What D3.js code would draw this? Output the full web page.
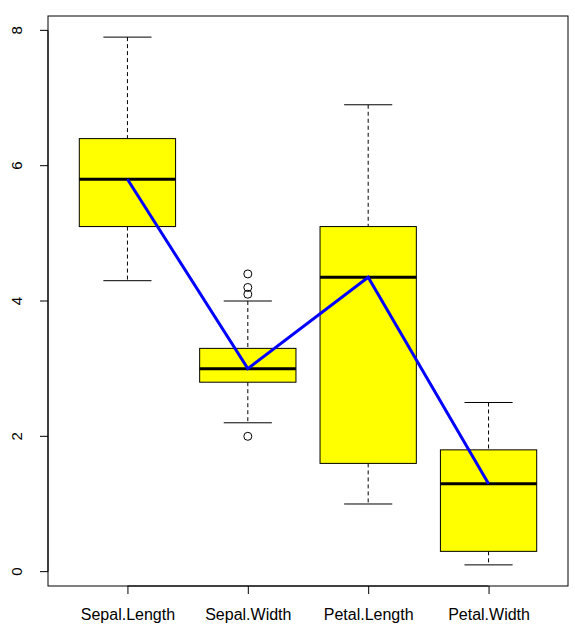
<!DOCTYPE html>
<html>
<head>
<meta charset="utf-8">
<script src="https://cdn.jsdelivr.net/npm/d3@7"></script>
<style>
  body { margin: 0; background: #fff; }
  text { font-family: "Liberation Sans", Arial, sans-serif; }
</style>
</head>
<body>
<div id="chart"></div>
<script>
// iris boxplot stats (R fivenum / boxplot.stats)
const categories = ["Sepal.Length", "Sepal.Width", "Petal.Length", "Petal.Width"];
const whiskerLow = [4.3, 2.2, 1.0, 0.1];
const q1 = [5.1, 2.8, 1.6, 0.3];
const medians = [5.8, 3.0, 4.35, 1.3];
const q3 = [6.4, 3.3, 5.1, 1.8];
const whiskerHigh = [7.9, 4.0, 6.9, 2.5];
const outliers = [[], [4.4, 4.1, 4.2, 2.0], [], []];
const yTicks = [0, 2, 4, 6, 8];

const W = 575, H = 632;
const margin = {top: 16, right: 7, bottom: 46, left: 48};
const width = W - margin.left - margin.right,
    height = H - margin.top - margin.bottom;

let svg = d3.select("#chart")
    .append("svg")
    .attr("width", W)
    .attr("height", H)
    .append("g")
    .attr("transform", `translate(${margin.left}, ${margin.top})`);

// R style extended ranges (4%)
let x = d3.scaleLinear()
    .domain([0.34, 4.66])
    .range([0, width]);
let y = d3.scaleLinear()
    .domain([-0.212, 8.212])
    .range([height, 0]);

const boxW = x(1.8) - x(1);
const capW = boxW / 2;

let data = categories.map((c, i) => ({
    name: c, pos: i + 1,
    lo: whiskerLow[i], q1: q1[i], med: medians[i], q3: q3[i], hi: whiskerHigh[i],
    out: outliers[i]
}));

let g = svg.append("g").selectAll("g.box")
    .data(data)
    .enter()
    .append("g")
    .attr("class", "box");

// whiskers (dashed)
g.append("line")
    .attr("x1", d => x(d.pos)).attr("x2", d => x(d.pos))
    .attr("y1", d => y(d.hi)).attr("y2", d => y(d.q3))
    .attr("stroke", "#000").attr("stroke-dasharray", "4,3");
g.append("line")
    .attr("x1", d => x(d.pos)).attr("x2", d => x(d.pos))
    .attr("y1", d => y(d.q1)).attr("y2", d => y(d.lo))
    .attr("stroke", "#000").attr("stroke-dasharray", "4,3");
// staples
g.append("line")
    .attr("x1", d => x(d.pos) - capW / 2).attr("x2", d => x(d.pos) + capW / 2)
    .attr("y1", d => y(d.hi)).attr("y2", d => y(d.hi))
    .attr("stroke", "#000");
g.append("line")
    .attr("x1", d => x(d.pos) - capW / 2).attr("x2", d => x(d.pos) + capW / 2)
    .attr("y1", d => y(d.lo)).attr("y2", d => y(d.lo))
    .attr("stroke", "#000");
// boxes
g.append("rect")
    .attr("x", d => x(d.pos) - boxW / 2)
    .attr("y", d => y(d.q3))
    .attr("width", boxW)
    .attr("height", d => y(d.q1) - y(d.q3))
    .attr("fill", "yellow")
    .attr("stroke", "#000");
// medians
g.append("line")
    .attr("x1", d => x(d.pos) - boxW / 2).attr("x2", d => x(d.pos) + boxW / 2)
    .attr("y1", d => y(d.med)).attr("y2", d => y(d.med))
    .attr("stroke", "#000").attr("stroke-width", 3);
// outliers
g.selectAll("circle")
    .data(d => d.out.map(v => ({pos: d.pos, v: v})))
    .enter()
    .append("circle")
    .attr("cx", d => x(d.pos))
    .attr("cy", d => y(d.v))
    .attr("r", 4)
    .attr("fill", "none")
    .attr("stroke", "#000");

// blue line through medians
svg.append("path")
    .datum(data)
    .attr("fill", "none")
    .attr("stroke", "blue")
    .attr("stroke-width", 3)
    .attr("d", d3.line()
        .x(d => x(d.pos))
        .y(d => y(d.med)));

// frame
svg.append("rect")
    .attr("x", 0).attr("y", 0)
    .attr("width", width).attr("height", height)
    .attr("fill", "none")
    .attr("stroke", "#000");

// y axis
let yAxis = svg.append("g")
    .call(d3.axisLeft(y).tickValues(yTicks).tickSize(8).tickPadding(0).tickSizeOuter(0));
yAxis.select(".domain").attr("d", `M0,${y(0)}V${y(8)}`);
yAxis.selectAll(".tick").attr("transform", "translate(0,0)");
yAxis.selectAll(".tick line")
    .attr("y1", d => y(d)).attr("y2", d => y(d));
yAxis.selectAll("text")
    .attr("x", 0).attr("y", 0).attr("dy", null)
    .attr("text-anchor", "middle")
    .attr("dominant-baseline", "middle")
    .attr("transform", d => `translate(-30, ${y(d)}) rotate(-90)`)
    .style("font-size", "15px")
    .style("font-family", "Liberation Sans, Arial, sans-serif");

// x axis
let xAxis = svg.append("g")
    .attr("transform", `translate(0, ${height})`)
    .call(d3.axisBottom(x).tickValues([1, 2, 3, 4]).tickSize(8).tickPadding(15)
        .tickFormat((d, i) => categories[i]).tickSizeOuter(0));
xAxis.select(".domain").attr("d", `M${x(1)},0H${x(4)}`);
xAxis.selectAll("text")
    .style("font-size", "16px")
    .style("font-family", "Liberation Sans, Arial, sans-serif");
</script>
</body>
</html>
